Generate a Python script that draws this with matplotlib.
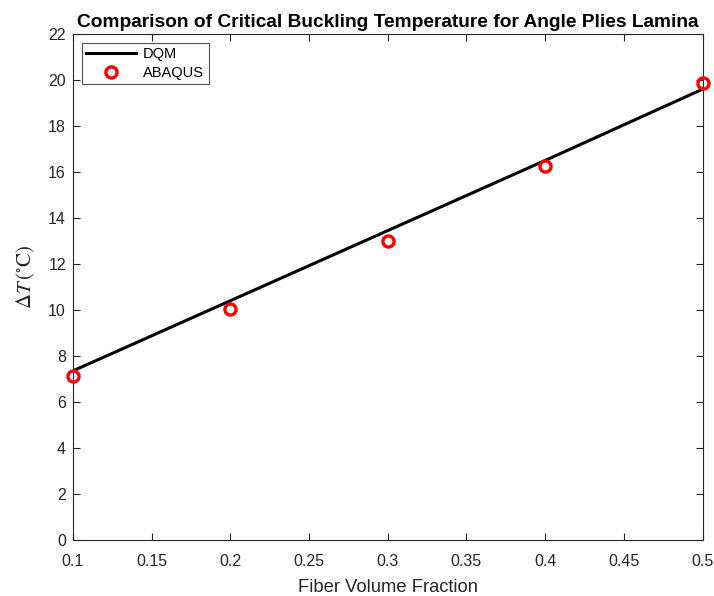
import matplotlib
matplotlib.use("Agg")
import matplotlib.pyplot as plt

plt.rcParams["font.family"] = ["Liberation Sans", "DejaVu Sans"]
plt.rcParams["mathtext.fontset"] = "stix"

vf = [0.1, 0.2, 0.3, 0.4, 0.5]
dqm = [7.35, 10.4, 13.45, 16.5, 19.6]
abaqus = [7.13, 10.03, 12.98, 16.25, 19.88]

xticks = [0.1, 0.15, 0.2, 0.25, 0.3, 0.35, 0.4, 0.45, 0.5]
xticklabels = ["0.1", "0.15", "0.2", "0.25", "0.3", "0.35", "0.4", "0.45", "0.5"]
yticks = list(range(0, 23, 2))

fig = plt.figure(figsize=(7.14, 5.96), dpi=100)
ax = fig.add_axes([0.102, 0.094, 0.882, 0.849])

ax.plot(vf, dqm, "k-", lw=2.2, label="DQM")
ax.plot(vf, abaqus, "o", ms=8, mfc="none", mec="red", mew=2.4, label="ABAQUS",
        clip_on=False, zorder=5)

ax.set_xlim(0.1, 0.5)
ax.set_ylim(0, 22)
ax.set_xticks(xticks)
ax.set_xticklabels(xticklabels)
ax.set_yticks(yticks)

for s in ax.spines.values():
    s.set_color("#262626")
    s.set_linewidth(0.8)
ax.tick_params(direction="in", length=5, width=0.8, colors="#262626",
               labelsize=11.5, top=True, right=True, labeltop=False, labelright=False)
ax.tick_params(axis="y", pad=5)
ax.tick_params(axis="x", pad=10)

ax.set_title("Comparison of Critical Buckling Temperature for Angle Plies Lamina",
             fontsize=13.8, fontweight="bold", pad=5)
ax.set_xlabel("Fiber Volume Fraction", fontsize=13.2, color="#262626", labelpad=7)
ax.set_ylabel(r"$\Delta T\,(^{\circ}\mathrm{C})$", fontsize=15, color="#262626")
ax.yaxis.set_label_coords(-0.057, 0.52)

leg = ax.legend(loc="upper left", fontsize=10.5, frameon=True, fancybox=False,
                edgecolor="#262626", handlelength=3.4, borderpad=0.32,
                labelspacing=0.3, handletextpad=0.5, borderaxespad=0.6,
                bbox_to_anchor=(0.0, 1.0))
leg.get_frame().set_linewidth(0.8)

plt.savefig("out.png", dpi=100)
plt.close()
